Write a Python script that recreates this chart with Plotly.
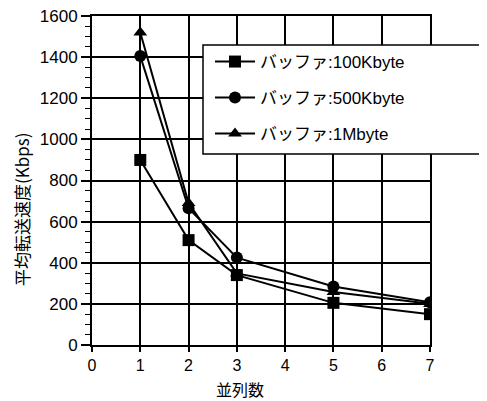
import plotly.graph_objects as go

x_parallel = [1, 2, 3, 5, 7]
buf_100k = [900, 510, 340, 205, 150]
buf_500k = [1405, 665, 425, 285, 208]
buf_1m = [1520, 690, 348, 258, 200]
series_names = ["バッファ:100Kbyte", "バッファ:500Kbyte", "バッファ:1Mbyte"]
x_ticks = [0, 1, 2, 3, 4, 5, 6, 7]
y_ticks = [0, 200, 400, 600, 800, 1000, 1200, 1400, 1600]
x_title = "並列数"
y_title = "平均転送速度(Kbps)"

FONT = "Liberation Sans, Arial, Noto Sans CJK JP"
JP = "Noto Sans CJK JP"

fig = go.Figure()
symbols = ["square", "circle", "triangle-up"]
data = [buf_100k, buf_500k, buf_1m]
legends = ["legend", "legend2", "legend3"]
for name, ys, sym, lg in zip(series_names, data, symbols, legends):
    fig.add_trace(go.Scatter(
        x=x_parallel, y=ys, name=name, mode="lines+markers",
        line=dict(color="black", width=2),
        marker=dict(symbol=sym, size=12, color="black"),
        legend=lg, showlegend=True,
    ))

OFF = 8  # page body margin
W, H = 487, 401
# target plot area in window pixels
PL, PR, PT, PB = 92, 430, 16, 345
L = PL - OFF
T = PT - OFF
R = W - (PR - OFF)
B = H - (PB - OFF)
pw, ph = PR - PL, PB - PT

def px(xp):
    return (xp - PL) / pw

def py(yp):
    return (PB - yp) / ph

fig.add_shape(type="rect", xref="paper", yref="paper",
              x0=px(203), x1=px(500), y0=py(154), y1=py(45),
              line=dict(color="black", width=1.5), fillcolor="white", layer="above")

leg_common = dict(bgcolor="rgba(0,0,0,0)", borderwidth=0,
                  font=dict(family=FONT, size=17, color="black"),
                  xanchor="left", yanchor="middle", itemwidth=40)
fig.update_layout(
    showlegend=True,
    legend=dict(x=px(210), y=py(62), **leg_common),
    legend2=dict(x=px(210), y=py(98), **leg_common),
    legend3=dict(x=px(210), y=py(134), **leg_common),
)

fig.add_annotation(text=x_title, xref="paper", yref="paper",
                   x=px(240), y=py(389), xanchor="center", yanchor="middle",
                   showarrow=False, borderpad=0,
                   font=dict(family=JP, size=16, color="black"))
fig.add_annotation(text=y_title, xref="paper", yref="paper",
                   x=px(21), y=py(210), xanchor="center", yanchor="middle",
                   textangle=-90, showarrow=False, borderpad=0,
                   font=dict(family=JP, size=17, color="black"))

fig.update_layout(
    width=W, height=H,
    margin=dict(l=L, r=R, t=T, b=B, autoexpand=False),
    paper_bgcolor="white", plot_bgcolor="white",
    font=dict(family=FONT, size=17, color="black"),
    xaxis=dict(
        range=[0, 7], tickvals=x_ticks, ticktext=[str(v) for v in x_ticks],
        showgrid=True, gridcolor="black", gridwidth=1.5,
        showline=True, linecolor="black", linewidth=2, mirror=True,
        ticks="outside", ticklen=5, tickwidth=1.5, tickcolor="black",
        zeroline=False, automargin=False,
        tickfont=dict(family=FONT, size=16, color="black"),
    ),
    yaxis=dict(
        range=[0, 1600], tickvals=y_ticks, ticktext=[str(v) for v in y_ticks],
        showgrid=True, gridcolor="black", gridwidth=1.5,
        showline=True, linecolor="black", linewidth=2, mirror=True,
        ticks="outside", ticklen=9, tickwidth=1.5, tickcolor="black",
        zeroline=False, automargin=False, ticklabeloverflow="allow",
        tickfont=dict(family=FONT, size=17, color="black"),
        minor=dict(dtick=50, ticks="outside", ticklen=5, tickwidth=1, tickcolor="black", showgrid=False),
    ),
)

fig.write_html("out.html")
